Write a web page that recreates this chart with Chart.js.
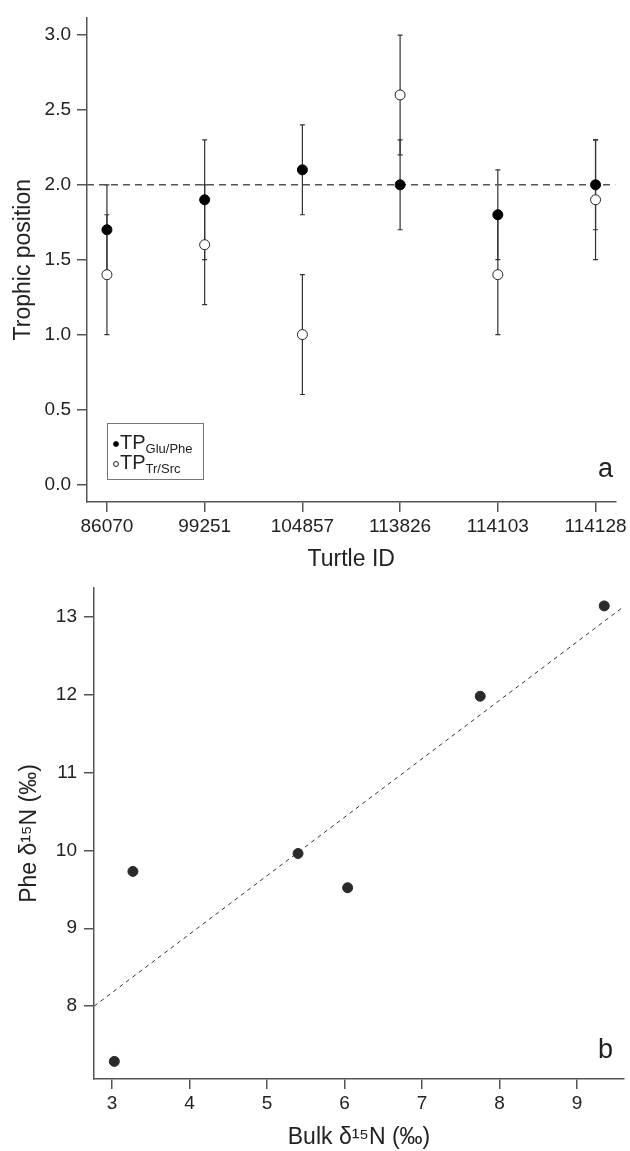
<!DOCTYPE html>
<html>
<head>
<meta charset="utf-8">
<script src="https://cdn.jsdelivr.net/npm/chart.js@4.4.0/dist/chart.umd.min.js"></script>
<style>
body { margin: 0; background: #fff; }
#wrap { position: relative; width: 630px; height: 1151px; overflow: hidden; font-family: "Liberation Sans", Arial, sans-serif; color: #222; }
canvas { position: absolute; left: 0; }
#legend { position: absolute; left: 107px; top: 423px; width: 95px; height: 55px; border: 1px solid #777; box-sizing: content-box; }
.leg-row { position: absolute; left: 5px; font-size: 20px; line-height: 20px; white-space: nowrap; }
.leg-row sub { font-size: 13px; vertical-align: -4px; }
.sym { display: inline-block; width: 6px; height: 6px; border-radius: 50%; margin-right: 1px; vertical-align: 2px; box-sizing: border-box; }
.panel-label { position: absolute; font-size: 27px; line-height: 27px; }
</style>
</head>
<body>
<div id="wrap">
  <canvas id="chartA" width="630" height="600" style="top:0"></canvas>
  <canvas id="chartB" width="630" height="591" style="top:560px"></canvas>
  <div id="legend"></div>
  <div class="panel-label" style="left:598px; top:455px">a</div>
  <div class="panel-label" style="left:598px; top:1036px">b</div>
</div>
<script>
// panel a
let turtleIds = ['86070', '99251', '104857', '113826', '114103', '114128'];
let tpGluPhe = [1.7, 1.9, 2.1, 2.0, 1.8, 2.0];
let tpGluPheErr = [0.3, 0.4, 0.3, 0.3, 0.3, 0.3];
let tpTrSrc = [1.4, 1.6, 1.0, 2.6, 1.4, 1.9];
let tpTrSrcErr = [0.4, 0.4, 0.4, 0.4, 0.4, 0.4];
let tpTicks = [0, 0.5, 1.0, 1.5, 2.0, 2.5, 3.0];
let tpRef = 2.0;
let legendNames = ['TP', 'TP'];
let legendSubs = ['Glu/Phe', 'Tr/Src'];

// panel b
let bulkN = [3.03, 3.27, 5.40, 6.04, 7.75, 9.35];
let pheN = [7.29, 9.73, 9.96, 9.52, 11.98, 13.14];
let fitX = [2.77, 9.60];
let fitY = [8.00, 13.13];
let bulkTicks = [3, 4, 5, 6, 7, 8, 9];
let pheTicks = [8, 9, 10, 11, 12, 13];

const FONT = '"Liberation Sans", Arial, sans-serif';
const TEXT = '#222';
const AXIS = '#555';
const TICK_SIZE = 19;
const TITLE_SIZE = 23;

Chart.defaults.font.family = FONT;
Chart.defaults.color = TEXT;

const errorBars = {
    id: 'errorBars',
    beforeDatasetsDraw(chart) {
        const ctx = chart.ctx;
        const xs = chart.scales.x;
        const ys = chart.scales.y;
        chart.data.datasets.forEach(ds => {
            if (!ds.errors) {
                return;
            }
            ctx.save();
            ctx.strokeStyle = '#333';
            ctx.lineWidth = 1.2;
            ds.data.forEach((p, i) => {
                let x = xs.getPixelForValue(p.x);
                let yTop = ys.getPixelForValue(p.y + ds.errors[i]);
                let yBot = ys.getPixelForValue(p.y - ds.errors[i]);
                ctx.beginPath();
                ctx.moveTo(x, yTop);
                ctx.lineTo(x, yBot);
                ctx.moveTo(x - 2.5, yTop);
                ctx.lineTo(x + 2.5, yTop);
                ctx.moveTo(x - 2.5, yBot);
                ctx.lineTo(x + 2.5, yBot);
                ctx.stroke();
            });
            ctx.restore();
        });
    }
};

function toPoints(xs, ys) {
    return xs.map((x, i) => ({x: x, y: ys[i]}));
}

function axisStyle(extra) {
    return Object.assign({
        grid: {drawOnChartArea: false, drawTicks: true, tickLength: 10, color: AXIS, lineWidth: 1.5},
        border: {display: true, color: AXIS, width: 1.5}
    }, extra);
}

let idx = turtleIds.map((_, i) => i);
let xMinA = -0.204;
let xMaxA = turtleIds.length - 1 + 0.204;

new Chart(document.getElementById('chartA').getContext('2d'), {
    type: 'scatter',
    data: {
        datasets: [{
            label: 'TP Glu/Phe',
            data: toPoints(idx, tpGluPhe),
            errors: tpGluPheErr,
            pointRadius: 5,
            pointBackgroundColor: '#000',
            pointBorderColor: '#000',
            pointBorderWidth: 1
        }, {
            label: 'TP Tr/Src',
            data: toPoints(idx, tpTrSrc),
            errors: tpTrSrcErr,
            pointRadius: 5,
            pointBackgroundColor: '#fff',
            pointBorderColor: '#222',
            pointBorderWidth: 1
        }, {
            type: 'line',
            label: 'ref',
            data: toPoints([xMinA, xMaxA], [tpRef, tpRef]),
            borderColor: '#555',
            borderWidth: 1.5,
            borderDash: [7, 5],
            pointRadius: 0,
            fill: false
        }]
    },
    options: {
        responsive: false,
        animation: false,
        layout: {padding: {top: 11, right: 12, left: 0, bottom: 0}},
        plugins: {legend: {display: false}, tooltip: {enabled: false}},
        scales: {
            x: axisStyle({
                type: 'linear',
                min: xMinA,
                max: xMaxA,
                afterBuildTicks: s => { s.ticks = idx.map(v => ({value: v})); },
                afterFit: s => { s.height = 98; },
                ticks: {
                    callback: v => turtleIds[v],
                    font: {size: TICK_SIZE},
                    color: TEXT,
                    padding: 3,
                    maxRotation: 0,
                    autoSkip: false
                },
                title: {display: true, text: 'Turtle ID', font: {size: TITLE_SIZE}, color: TEXT, padding: {top: 0, bottom: 27}}
            }),
            y: axisStyle({
                type: 'linear',
                min: -0.118,
                max: 3.118,
                afterBuildTicks: s => { s.ticks = tpTicks.map(v => ({value: v})); },
                afterFit: s => { s.width = 87; },
                ticks: {
                    callback: v => v.toFixed(1),
                    font: {size: TICK_SIZE},
                    color: TEXT,
                    padding: 6
                },
                title: {display: true, text: 'Trophic position', font: {size: TITLE_SIZE}, color: TEXT, padding: {top: 10, bottom: 0}}
            })
        }
    },
    plugins: [errorBars]
});

new Chart(document.getElementById('chartB').getContext('2d'), {
    type: 'scatter',
    data: {
        datasets: [{
            label: 'Phe vs Bulk',
            data: toPoints(bulkN, pheN),
            pointRadius: 5,
            pointBackgroundColor: '#2a2a2a',
            pointBorderColor: '#2a2a2a',
            pointBorderWidth: 1
        }, {
            type: 'line',
            label: 'fit',
            data: toPoints(fitX, fitY),
            borderColor: '#333',
            borderWidth: 1,
            borderDash: [4, 4],
            pointRadius: 0,
            fill: false
        }]
    },
    options: {
        responsive: false,
        animation: false,
        layout: {padding: {top: 28, right: 5, left: 0, bottom: 0}},
        plugins: {legend: {display: false}, tooltip: {enabled: false}},
        scales: {
            x: axisStyle({
                type: 'linear',
                min: 2.768,
                max: 9.605,
                afterBuildTicks: s => { s.ticks = bulkTicks.map(v => ({value: v})); },
                afterFit: s => { s.height = 72; },
                ticks: {font: {size: TICK_SIZE}, color: TEXT, padding: 3, maxRotation: 0},
                title: {display: true, text: 'Bulk δ¹⁵N (‰)', font: {size: TITLE_SIZE}, color: TEXT, padding: {top: 0, bottom: 0}}
            }),
            y: axisStyle({
                type: 'linear',
                min: 7.064,
                max: 13.37,
                afterBuildTicks: s => { s.ticks = pheTicks.map(v => ({value: v})); },
                afterFit: s => { s.width = 94; },
                ticks: {font: {size: TICK_SIZE}, color: TEXT, padding: 7},
                title: {display: true, text: 'Phe δ¹⁵N (‰)', font: {size: TITLE_SIZE}, color: TEXT, padding: {top: 16, bottom: 0}}
            })
        }
    }
});

// legend for panel a, with subscripts
let legend = document.getElementById('legend');
legendNames.forEach((name, i) => {
    let row = document.createElement('div');
    row.className = 'leg-row';
    row.style.top = (8 + i * 20) + 'px';
    let sym = document.createElement('span');
    sym.className = 'sym';
    sym.style.background = i === 0 ? '#000' : '#fff';
    sym.style.border = '1px solid #222';
    row.appendChild(sym);
    row.appendChild(document.createTextNode(name));
    let sub = document.createElement('sub');
    sub.textContent = legendSubs[i];
    row.appendChild(sub);
    legend.appendChild(row);
});
</script>
</body>
</html>
